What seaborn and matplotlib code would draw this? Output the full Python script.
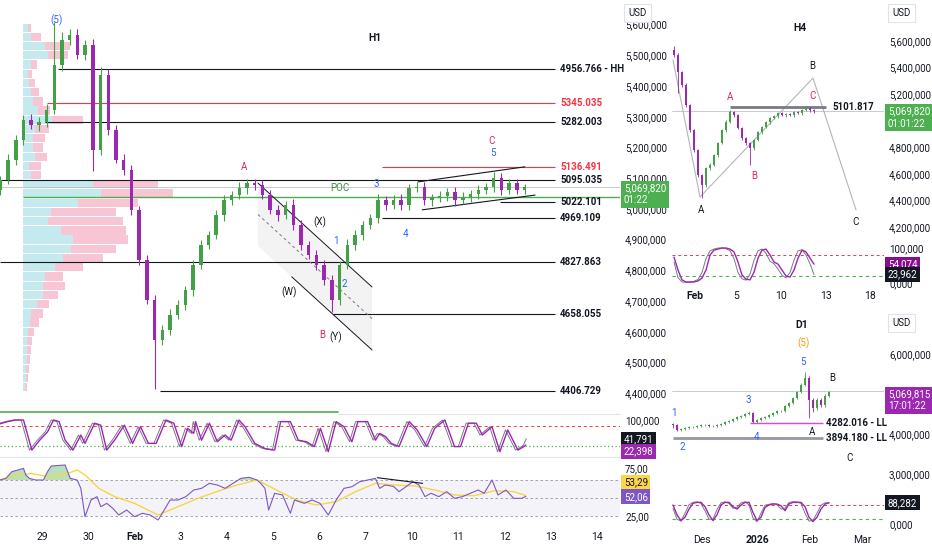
import numpy as np
import matplotlib
matplotlib.use("Agg")
import matplotlib.pyplot as plt
import seaborn as sns
from matplotlib.patches import Polygon
from matplotlib.lines import Line2D
from matplotlib.ticker import FuncFormatter

# ---------------- DATA ----------------
# H1 candles (closes, wick sizes); one candle per 1/6 trading day
h1_open0 = 5060
h1_close = [5094,5160,5224,5290,5273,5283,5322,5468,5550,5566,
            5502,5534,5192,5436,5257,5160,5127,4997,4834,4703,
            4573,4606,4655,4687,4736,4817,4883,4915,4980,5029,
            5045,5068,5084,5078,5045,4997,4980,5013,4948,4883,
            4850,4817,4769,4703,4817,4883,4915,4948,4970,5029,
            5013,5029,5013,5068,5071,5029,5036,5042,5055,5029,
            5036,5049,5062,5071,5101,5062,5084,5062,5070]
h1_wick_up = [12,20,18,15,20,15,18,140,25,20,
              18,15,20,25,18,15,18,15,12,15,
              18,15,18,15,12,18,15,12,18,15,
              12,18,15,12,15,18,15,12,18,15,
              12,15,18,15,12,18,15,12,15,18,
              12,15,18,12,15,18,12,15,12,15,
              18,12,15,12,20,15,12,15,12]
h1_wick_dn = [15,12,18,15,12,20,15,12,18,15,
              15,18,70,15,18,12,15,18,15,12,
              160,15,18,12,15,18,12,15,12,18,
              15,12,18,15,12,15,18,12,15,18,
              12,15,18,40,15,12,18,15,12,15,
              18,12,15,18,12,15,18,12,15,18,
              12,15,18,12,15,18,12,15,12]

# Volume profile rows
vp_price = [5590,5560,5530,5500,5470,5440,5410,5380,5350,5320,
            5290,5260,5230,5200,5170,5140,5110,5080,5050,5020,
            4990,4960,4930,4900,4870,4840,4810,4780,4750,4720,
            4690,4660,4630,4600,4570,4540,4510,4480,4450,4420]
vp_up = [5,8,22,25,8,5,6,8,10,15,29,12,10,10,12,6,8,70,78,55,
         28,25,38,50,48,40,32,22,20,20,14,8,7,5,4,4,4,3,3,2]
vp_down = [3,10,25,20,6,4,6,8,10,12,31,14,12,10,12,12,10,65,72,60,
           65,75,65,55,45,40,28,18,22,15,12,12,9,6,5,4,3,3,2,2]

# Horizontal levels on H1
lvl_price = [5456, 5345.035, 5282.003, 5136.491, 5095.035, 5022.101, 4969.109, 4827.863, 4658.055, 4406.729]
lvl_label = ["4956.766 - HH", "5345.035", "5282.003", "5136.491", "5095.035",
             "5022.101", "4969.109", "4827.863", "4658.055", "4406.729"]
lvl_start = [0.35, 0.10, 0.07, 7.35, -0.91, 9.9, 7.35, -0.91, 6.29, 2.55]
lvl_red = [False, True, False, True, False, False, False, False, False, False]
poc_price = 5040
last_price = 5069.82

# Stochastic H1 (turning points, trading-day time)
st_x = [-0.91,-0.74,-0.57,-0.40,-0.22,-0.05,0.12,0.25,0.37,0.50,0.67,0.84,0.93,1.14,1.27,1.40,1.57,1.78,1.96,2.13,
        2.30,2.47,2.68,2.85,3.02,3.15,3.28,3.32,3.45,3.62,3.79,3.96,4.09,4.26,4.39,4.60,4.82,5.03,5.16,5.37,
        5.54,5.72,5.89,6.02,6.19,6.36,6.53,6.70,6.83,7.04,7.21,7.30,7.43,7.55,7.72,7.94,8.11,8.32,8.49,8.71,
        8.92,9.05,9.22,9.39,9.52,9.73,9.90,10.07,10.29,10.42,10.46]
st_v = [88,95,100,100,6,37,63,100,95,37,6,53,27,90,84,6,37,84,27,79,
        27,27,100,90,17,74,58,95,37,90,32,53,37,100,79,27,11,6,95,95,
        37,32,17,74,1,95,79,32,95,95,37,58,48,27,17,95,69,17,74,100,
        17,17,90,90,53,79,1,69,6,17,22]
st_fast_last = 41.791

# RSI H1
rsi_x = [-0.91,-0.78,-0.65,-0.52,-0.40,-0.35,-0.27,-0.14,0.03,0.12,0.20,0.50,0.61,0.76,0.84,0.93,1.06,1.19,1.27,1.40,
         1.53,1.66,1.83,2.00,2.17,2.34,2.51,2.60,2.77,2.94,3.11,3.28,3.45,3.62,3.79,3.96,4.13,4.30,4.48,4.65,
         4.73,4.82,4.90,5.03,5.20,5.37,5.46,5.67,5.84,6.01,6.19,6.36,6.53,6.70,6.87,7.04,7.21,7.30,7.42,7.60,
         7.72,7.89,8.02,8.15,8.28,8.41,8.58,8.75,8.92,9.09,9.26,9.43,9.56,9.73,9.86,10.03,10.20,10.37,10.46]
rsi_v = [75,77.3,86.7,89,91.3,82,77.3,75,75,86.7,94.6,96,77.3,75,63.3,23.6,47,51.7,37.6,42.3,
         35.4,26,33,23.6,28.4,26,19,28.4,47,47,51.7,61,63.3,70.3,68,63.3,70.3,77.3,78.8,75,
         70.3,63.3,33,56.4,54,28.4,47,42.3,47,42.3,26,47,63.3,65.6,72.6,75,77.3,63.3,68,66,
         58.7,66.6,72.6,68,51.7,56.4,51.7,58.7,49.3,51.7,56.4,61,56.4,75,54,61,49.3,49.3,52.06]
rsi_ma_x = [-0.91,-0.57,-0.22,0.12,0.46,0.76,0.93,1.23,1.57,2.00,2.51,2.94,3.37,3.88,4.22,4.65,5.07,5.50,5.93,6.36,
            6.78,7.21,7.64,8.07,8.49,8.92,9.35,9.78,10.20,10.46]
rsi_ma_v = [75,82,84,80,82,89,82,63.3,51.7,42.3,26,37.6,49.3,61,68,75,61,47,40,44.6,
            58.7,70.3,68,66.6,61,54,53,60,58.7,53.29]
h1_dates = ["29","30","Feb","3","4","5","6","7","10","11","12","13","14"]

# H4 candles
h4_open0 = 5530
h4_close = [5493,5365,5268,5117,4929,4779,4591,4516,4643,4666,
            4741,4832,4929,4989,5065,5042,4944,4869,4832,4794,
            4854,4914,4952,4989,5020,5035,5057,5042,5050,5042,
            5065,5057,5080,5095,5080,5070]
h4_wick_up = [30,12,10,12,10,10,10,10,10,12,
              10,10,10,12,15,10,10,10,10,10,
              10,10,10,10,10,10,10,10,10,10,
              10,10,10,15,10,10]
h4_wick_dn = [12,160,15,12,15,12,15,100,12,15,
              10,12,10,12,10,12,10,15,12,130,
              12,10,12,10,12,10,12,10,12,10,
              12,10,12,10,12,10]
h4_st_slow = [74,37,9,3,3,3,6,14,37,80,94,97,100,100,97,89,60,23,11,9,
              31,71,94,97,80,60,54,37,20,17,37,71,94,89,71,54]
h4_st_fast = [60,15,3,2,2,5,10,30,70,92,97,100,100,98,92,70,30,12,8,25,
              65,92,97,85,62,55,40,22,15,30,65,92,95,80,55,24]
h4_level = 5101.817
h4_zig_x = [-0.25, 6.5, 34.75, 45.5]
h4_zig_p = [5456, 4425, 5320, 4328]
h4_dates = ["Feb", "5", "10", "13", "18"]
h4_date_pos = [5.25, 15.5, 26.75, 38, 49]

# D1 candles
d1_open0 = 4250
d1_close = [4225,4100,4125,4150,4175,4175,4200,4225,4225,4200,
            4200,4225,4250,4300,4325,4375,4425,4450,4500,4525,
            4300,4350,4400,4425,4475,4525,4575,4575,4700,4775,
            4900,5050,5225,5400,4850,4650,4850,4725,4950,5050]
d1_wick_up = [25,25,25,25,25,25,25,25,25,25,
              25,25,25,25,25,25,25,25,25,40,
              25,25,25,25,25,25,25,25,25,25,
              25,30,40,150,60,40,60,40,40,30]
d1_wick_dn = [75,25,25,25,25,25,25,25,25,25,
              25,25,25,25,25,25,25,25,25,25,
              25,25,25,25,25,25,25,25,25,25,
              25,25,25,25,450,100,60,60,40,25]
d1_st_slow = [79,38,14,28,62,86,90,90,72,38,14,38,79,90,90,72,62,79,90,90,
              48,14,28,69,79,83,83,76,55,83,90,90,90,72,28,10,28,62,83,88]
d1_st_fast = [65,20,12,45,80,90,92,85,55,20,20,60,88,92,85,65,70,88,92,80,
              25,10,45,78,82,85,80,62,65,90,92,92,85,45,12,15,45,78,88,88]
d1_ll1 = 4282.016
d1_ll2 = 3894.180
d1_dates = ["Des", "2026", "Feb", "Mar"]
d1_date_pos = [7.25, 21.25, 34.25, 47.25]

# ---------------- STYLE ----------------
sns.set_theme(style="white")
plt.rcParams['font.family'] = ['Roboto', 'DejaVu Sans']

GREEN = "#43a047"
PURPLE = "#9c27b0"
RED = "#f23645"
BLUE = "#2962ff"
WAVE_RED = "#e0245e"
INK = "#131722"
GREY = "#787b86"

W, H = 932, 550
fig = plt.figure(figsize=(W / 100, H / 100), dpi=100)
fig.patch.set_facecolor("white")


def rect(x0, y0, x1, y1):
    return [x0 / W, 1 - y1 / H, (x1 - x0) / W, (y1 - y0) / H]


def clean(a):
    a.set_facecolor("none")
    for s in a.spines.values():
        s.set_visible(False)
    a.tick_params(length=0, labelsize=7, colors=INK)
    a.set_xticks([])
    a.grid(False)


fmt3 = FuncFormatter(lambda v, p: f"{v:,.0f},000")


def right_axis(a, ticks, pad=3.6, fmt=fmt3):
    a.yaxis.tick_right()
    a.set_yticks(ticks)
    a.yaxis.set_major_formatter(fmt)
    a.tick_params(axis="y", pad=pad)


def candles(a, x, open0, close, wu, wd, width, lw=0.7):
    x = np.asarray(x, float)
    c = np.asarray(close, float)
    o = np.r_[open0, c[:-1]]
    hi = np.maximum(o, c) + np.asarray(wu)
    lo = np.minimum(o, c) - np.asarray(wd)
    cols = np.where(c >= o, GREEN, PURPLE)
    a.vlines(x, lo, hi, colors=cols, lw=lw, zorder=3)
    hgt = np.maximum(np.abs(c - o), 3)
    a.bar(x, hgt, bottom=np.minimum(o, c), width=width, color=cols, lw=0, zorder=4)


def box(a, yval, text, fc, tc="white", dy=0, fs=7):
    a.annotate(text, xy=(1.0, yval), xycoords=("axes fraction", "data"),
               xytext=(2.8, dy), textcoords="offset points", ha="left", va="center",
               fontsize=fs, color=tc, linespacing=1.25,
               bbox=dict(boxstyle="square,pad=0.25", fc=fc, ec="none"),
               annotation_clip=False, zorder=30)


def usd(xpx, ypx):
    fig.text(xpx / W, 1 - ypx / H, "USD", fontsize=7, color=INK, ha="left", va="center",
             bbox=dict(boxstyle="square,pad=0.45", fc="white", ec="#e0e3eb", lw=0.8), zorder=40)


# ---------------- AXES ----------------
ax_vp = fig.add_axes(rect(23, 0, 400, 408))
ax = fig.add_axes(rect(0, 0, 620, 408))
ax_st = fig.add_axes(rect(0, 414, 620, 457))
ax_rsi = fig.add_axes(rect(0, 457, 620, 528))
ax4 = fig.add_axes(rect(672, 0, 884, 245))
ax4s = fig.add_axes(rect(672, 245, 884, 287))
axd = fig.add_axes(rect(672, 305, 884, 490))
axds = fig.add_axes(rect(672, 492, 884, 528))
for a in [ax_vp, ax, ax_st, ax_rsi, ax4, ax4s, axd, axds]:
    clean(a)

XL = (-0.908, 12.497)
YL = (4352, 5680)

# Volume profile
ax_vp.set_xlim(0, 377)
ax_vp.set_ylim(*YL)
ax_vp.set_yticks([])
ax_vp.barh(vp_price, vp_up, height=27, color="#c4eaf0", lw=0)
ax_vp.barh(vp_price, vp_down, left=vp_up, height=27, color="#f7c5d3", lw=0)

# ---------------- H1 main ----------------
ax.set_xlim(*XL)
ax.set_ylim(*YL)
h1_t = np.arange(len(h1_close)) / 6 - 0.9
candles(ax, h1_t, h1_open0, h1_close, h1_wick_up, h1_wick_dn, width=0.075, lw=0.8)
right_axis(ax, list(range(4400, 5700, 100)))

x_end = 11.09
for p, lab, x0, red in zip(lvl_price, lvl_label, lvl_start, lvl_red):
    col = RED if red else INK
    ax.hlines(p, x0, x_end, color=col, lw=0.8, zorder=2)
    ax.text(11.2, p, lab, fontsize=7, color=col, va="center", ha="left", fontweight="semibold")
ax.axhline(last_price, color="#b2b5be", lw=0.5, zorder=1)
ax.hlines(poc_price, -0.41, XL[1], color="#4caf50", lw=1.0, zorder=2)
box(ax, last_price, "5,069,820\n01:22", "#4caf50", dy=-5)

# descending channel
chan = Polygon([(4.67, 5084), (7.135, 4746), (7.135, 4541), (4.67, 4879)], closed=True,
               fc="#9e9e9e", alpha=0.12, ec="none", zorder=1)
ax.add_patch(chan)
ax.plot([4.67, 7.135], [5084, 4746], color=INK, lw=0.7, zorder=2)
ax.plot([5.4, 7.135], [4779, 4541], color=INK, lw=0.7, zorder=2)
ax.plot([4.67, 7.135], [4982, 4643], color=GREY, lw=0.7, ls=(0, (3, 3)), zorder=2)
# rising wedge
ax.plot([8.13, 10.44], [5088, 5137], color=INK, lw=0.8, zorder=2)
ax.plot([8.22, 10.66], [4997, 5045], color=INK, lw=0.8, zorder=2)

def lbl(a, x, y, t, c, fs=7, w="normal"):
    a.text(x, y, t, color=c, fontsize=fs, ha="center", va="center", fontweight=w, zorder=10)

lbl(ax, 7.2, 5557, "H1", INK, 7.5, "semibold")
lbl(ax, 0.32, 5615, "(5)", BLUE)
lbl(ax, 4.37, 5137, "A", WAVE_RED)
lbl(ax, 6.01, 4957, "(X)", INK)
lbl(ax, 5.34, 4729, "(W)", INK)
lbl(ax, 6.05, 4589, "B", WAVE_RED)
lbl(ax, 6.36, 4583, "(Y)", INK)
lbl(ax, 6.36, 4895, "1", BLUE)
lbl(ax, 6.53, 4755, "2", BLUE)
lbl(ax, 7.22, 5081, "3", BLUE)
lbl(ax, 7.85, 4918, "4", BLUE)
lbl(ax, 9.75, 5182, "5", BLUE)
lbl(ax, 9.71, 5221, "C", WAVE_RED)
lbl(ax, 6.44, 5068, "POC", "#388e3c")
ax.set_zorder(3)
ax_vp.set_zorder(1)

# ---------------- Stochastic H1 ----------------
ax_st.set_xlim(*XL)
ax_st.set_ylim(-15.6, 118.75)
ax_st.axhline(80, color=RED, lw=0.7, ls=(0, (3, 3)))
ax_st.axhline(20, color="#4caf50", lw=0.9, ls=(0, (1, 2)))
ax_st.plot([-0.91, 6.4], [125, 125], color="#4caf50", lw=1.2, clip_on=False)
st_fast_x = [v - 0.05 for v in st_x] + [10.47]
st_fast_v = st_v + [st_fast_last]
sns.lineplot(x=st_fast_x, y=st_fast_v, ax=ax_st, color=GREY, lw=0.7, sort=False, estimator=None)
sns.lineplot(x=st_x, y=st_v, ax=ax_st, color=PURPLE, lw=1.0, sort=False, estimator=None)
right_axis(ax_st, [100])
box(ax_st, 41.791, "41,791", INK, dy=-0.7)
box(ax_st, 22.398, "22,398", PURPLE, dy=-4.9)

# ---------------- RSI H1 ----------------
ax_rsi.set_xlim(*XL)
ax_rsi.set_ylim(7.8, 107.2)
ax_rsi.axhspan(25, 75, color="#7e57c2", alpha=0.07, lw=0)
for lv in (75, 50, 25):
    ax_rsi.axhline(lv, color="#9598a1", lw=0.6, ls=(0, (3, 3)))
rv = np.array(rsi_v)
ax_rsi.fill_between(rsi_x, rv, 75, where=rv > 75, interpolate=True, color="#66bb6a", alpha=0.45, lw=0)
sns.lineplot(x=rsi_ma_x, y=rsi_ma_v, ax=ax_rsi, color="#f5d742", lw=1.0, sort=False, estimator=None)
sns.lineplot(x=rsi_x, y=rsi_v, ax=ax_rsi, color="#7e57c2", lw=0.8, sort=False, estimator=None)
ax_rsi.plot([7.25, 8.23], [78.2, 70.3], color=INK, lw=0.8)
right_axis(ax_rsi, [25], fmt=FuncFormatter(lambda v, p: f"{v:.2f}".replace(".", ",")))
ax_rsi.annotate("75,00", xy=(1.0, 75), xycoords=("axes fraction", "data"),
                xytext=(3.6, 8), textcoords="offset points", ha="left", va="center",
                fontsize=7, color=INK, annotation_clip=False, zorder=25)
box(ax_rsi, 53.29, "53,29", "#fbd54a", tc=INK, dy=9.5)
box(ax_rsi, 52.06, "52,06", "#7e57c2", dy=-0.3)
ax_rsi.set_xticks(range(len(h1_dates)))
ax_rsi.set_xticklabels(h1_dates)
ax_rsi.tick_params(axis="x", pad=3, labelsize=7.5)
for t in ax_rsi.get_xticklabels():
    if t.get_text() == "Feb":
        t.set_fontweight("bold")

# ---------------- H4 ----------------
X4 = (-0.5, 52.5)
ax4.set_xlim(*X4)
ax4.set_ylim(4064, 5907)
candles(ax4, np.arange(len(h4_close)), h4_open0, h4_close, h4_wick_up, h4_wick_dn, width=0.5, lw=0.6)
right_axis(ax4, [4200, 4400, 4600, 4800, 5200, 5400, 5600])
ax4.axhline(last_price, color="#b2b5be", lw=0.5, zorder=1)
ax4.hlines(h4_level, 14, 38, color=GREY, lw=2.0, zorder=2)
ax4.text(39.5, h4_level, f"{h4_level:.3f}", fontsize=7, color=INK, va="center", ha="left", fontweight="semibold")
ax4.plot(h4_zig_x, h4_zig_p, color="#b2b5be", lw=0.8, zorder=1)
box(ax4, last_price, "5,069,820\n01:01:22", "#4caf50", dy=-4.6)
lbl(ax4, 31.5, 5696, "H4", INK, 7.5, "semibold")
lbl(ax4, 6.75, 4328, "A", INK)
lbl(ax4, 34.5, 5411, "B", INK)
lbl(ax4, 45.5, 4237, "C", INK)
lbl(ax4, 14, 5177, "A", WAVE_RED)
lbl(ax4, 20, 4583, "B", WAVE_RED)
lbl(ax4, 34.75, 5185, "C", WAVE_RED)

ax4s.set_xlim(*X4)
ax4s.set_ylim(-11.4, 108.6)
ax4s.axhline(80, color=RED, lw=0.7, ls=(0, (3, 3)))
ax4s.axhline(20, color="#4caf50", lw=0.8, ls=(0, (3, 3)))
sns.lineplot(x=np.arange(len(h4_st_fast)), y=h4_st_fast, ax=ax4s, color=GREY, lw=0.7, estimator=None)
sns.lineplot(x=np.arange(len(h4_st_slow)), y=h4_st_slow, ax=ax4s, color=PURPLE, lw=1.0, estimator=None)
right_axis(ax4s, [0, 100])
box(ax4s, 54.074, "54,074", "#880e8f")
box(ax4s, 23.962, "23,962", INK)
ax4s.set_xticks(h4_date_pos)
ax4s.set_xticklabels(h4_dates)
ax4s.tick_params(axis="x", pad=3, labelsize=7.5)
for t in ax4s.get_xticklabels():
    if t.get_text() == "Feb":
        t.set_fontweight("bold")

# ---------------- D1 ----------------
XD = (-0.25, 52.75)
axd.set_xlim(*XD)
axd.set_ylim(2600, 7225)
candles(axd, np.arange(len(d1_close)), d1_open0, d1_close, d1_wick_up, d1_wick_dn, width=0.55, lw=0.6)
right_axis(axd, [3000, 4000, 6000])
axd.axhline(last_price, color="#b2b5be", lw=0.5, zorder=1)
axd.hlines(d1_ll1, 19.25, 37.5, color="#e040fb", lw=1.0, zorder=2)
axd.hlines(d1_ll2, 0, 37.5, color="#9598a1", lw=2.0, zorder=2)
axd.text(38.25, d1_ll1, f"{d1_ll1:.3f} - LL", fontsize=7, color=INK, va="center", ha="left", fontweight="semibold")
axd.text(38.25, d1_ll2, f"{d1_ll2:.3f} - LL", fontsize=7, color=INK, va="center", ha="left", fontweight="semibold")
box(axd, 5069.815, "5,069,815\n17:01:22", "#9c27b0", dy=-6.5)
lbl(axd, 32.25, 6725, "D1", INK, 7.5, "semibold")
lbl(axd, 32.75, 6275, "(5)", "#ff9800")
lbl(axd, 32.5, 5800, "5", BLUE)
lbl(axd, 39.75, 5400, "B", INK)
lbl(axd, 34.75, 4050, "A", INK)
lbl(axd, 44.25, 3400, "C", INK)
lbl(axd, 0.25, 4525, "1", BLUE)
lbl(axd, 2.25, 3675, "2", BLUE)
lbl(axd, 18.75, 4850, "3", BLUE)
lbl(axd, 21, 3925, "4", BLUE)

axds.set_xlim(*XD)
axds.set_ylim(-16.7, 133)
axds.axhline(80, color=RED, lw=0.7, ls=(0, (3, 3)))
axds.axhline(20, color="#4caf50", lw=0.8, ls=(0, (3, 3)))
sns.lineplot(x=np.arange(len(d1_st_fast)), y=d1_st_fast, ax=axds, color=GREY, lw=0.7, estimator=None)
sns.lineplot(x=np.arange(len(d1_st_slow)), y=d1_st_slow, ax=axds, color=PURPLE, lw=1.0, estimator=None)
right_axis(axds, [0])
box(axds, 88.282, "88,282", INK)
axds.set_xticks(d1_date_pos)
axds.set_xticklabels(d1_dates)
axds.tick_params(axis="x", pad=5, labelsize=7.5)
for t in axds.get_xticklabels():
    if t.get_text() == "2026":
        t.set_fontweight("bold")

for a in [ax_st, ax_rsi, ax4s, axds]:
    a.set_xlabel("")
    a.set_ylabel("")

# pane separators
fig.add_artist(Line2D([338 / W, 620 / W], [1 - 414 / H, 1 - 414 / H], color="#e0e3eb", lw=0.8))
fig.add_artist(Line2D([0, 620 / W], [1 - 457 / H, 1 - 457 / H], color="#e0e3eb", lw=0.8))

usd(628, 13)
usd(892, 13)
usd(892, 323)

fig.savefig("out.png", dpi=100, facecolor="white")
